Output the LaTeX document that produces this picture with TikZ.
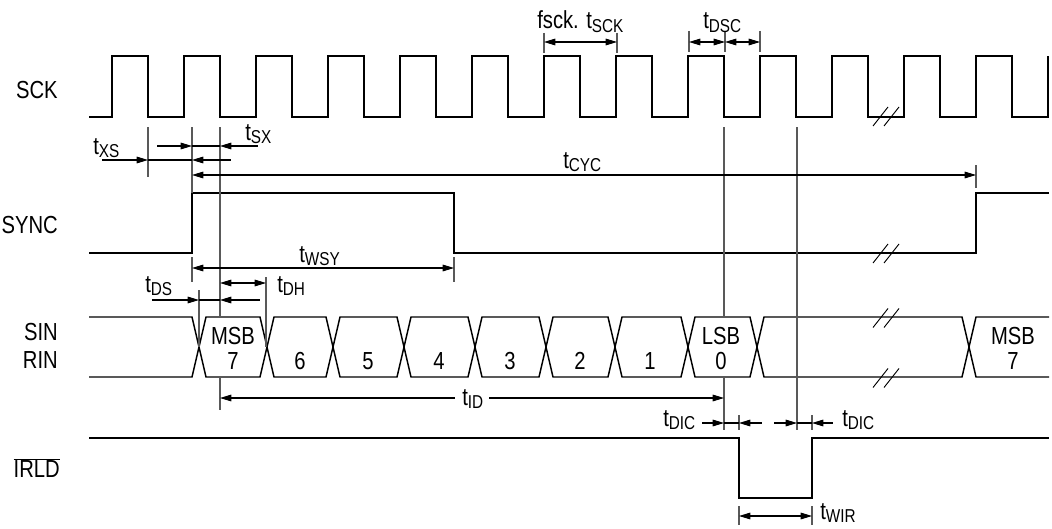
\documentclass[tikz,border=0pt]{standalone}
\usepackage{fontspec}
\setmainfont{Liberation Sans}[FakeStretch=0.82]
\usetikzlibrary{arrows.meta}
\newcommand\tsub[1]{t\raisebox{-0.16em}{\fontsize{14}{15}\selectfont #1}}
\begin{document}
\begin{tikzpicture}[x=0.75pt,y=-0.75pt,
  font=\fontsize{18.5}{20}\selectfont,
  >={Triangle[length=8.5pt,width=5pt]},
  wave/.style={line width=1.1pt},
  refl/.style={line width=0.8pt,black!65},
  dim/.style={line width=0.8pt},
  brk/.style={line width=0.7pt},
  lab/.style={anchor=base west,inner sep=0pt},
  sig/.style={anchor=east,inner sep=0pt},
  dat/.style={anchor=center,inner sep=0pt}]
\useasboundingbox (0,0) rectangle (1052,528);

% signal names
\node[sig] (sck) at (58,90) {SCK};
\node[sig] (sync) at (58,225) {SYNC};
\node[sig] (sin) at (58,332) {SIN};
\node[sig] (rin) at (58,360) {RIN};
\node[sig] (irld) at (60,468) {$\overline{\mbox{IRLD}}$};

% SCK
\draw[wave] (89,117) \foreach \r in {112,184,...,976} { -- (\r,117) -- (\r,56) -- (\r+36,56) -- (\r+36,117) } -- (1048,117) -- (1048,56);

% SYNC
\draw[wave] (89,253) -- (192,253) -- (192,193) -- (454,193) -- (454,253) -- (976,253) -- (976,193) -- (1049,193);

% data bus
\draw[wave] (89,317) -- (192,317) -- (199,347) -- (192,377) -- (89,377);
\foreach \a/\b in {199/267,267/333,333/404,404/475,475/546,546/615,615/688,688/757,757/969}
  \draw[wave] (\a,347) -- (\a+7,317) -- (\b-7,317) -- (\b,347) -- (\b-7,377) -- (\a+7,377) -- cycle;
\draw[wave] (1049,317) -- (976,317) -- (969,347) -- (976,377) -- (1049,377);

% IRLD
\draw[wave] (89,438) -- (739,438) -- (739,498) -- (812,498) -- (812,438) -- (1049,438);

% break marks
\foreach \y in {116.5,253.5,318,378}
  \draw[brk] (873,\y+9.5) -- (888,\y-9.5) (884,\y+9.5) -- (899,\y-9.5);

% data labels
\node[dat] (msb1) at (233,336) {MSB};
\node[dat] (b7) at (233,361) {7};
\node[dat] (b6) at (300,361) {6};
\node[dat] (b5) at (368,361) {5};
\node[dat] (b4) at (439,361) {4};
\node[dat] (b3) at (510,361) {3};
\node[dat] (b2) at (580,361) {2};
\node[dat] (b1) at (650,361) {1};
\node[dat] (lsb) at (721,336) {LSB};
\node[dat] (b0) at (721,361) {0};
\node[dat] (msb2) at (1013,336) {MSB};
\node[dat] (b7b) at (1013,361) {7};

% reference lines
\draw[refl] (148,127) -- (148,177);
\draw[refl] (192,127) -- (192,193);
\draw[refl] (220,127) -- (220,317) (220,377) -- (220,410);
\draw[refl] (724,127) -- (724,317) (724,377) -- (724,430);
\draw[refl] (797,127) -- (797,430);
\draw[refl] (976,165) -- (976,188);
\draw[refl] (199,290) -- (199,347);
\draw[refl] (266,277) -- (266,347);
\draw[refl] (192,257) -- (192,282) (454,257) -- (454,282);
\draw[refl] (544,33) -- (544,53) (617,33) -- (617,53);
\draw[refl] (689,31) -- (689,52) (725,31) -- (725,52) (760,31) -- (760,52);
\draw[refl] (739,415) -- (739,430) (812,415) -- (812,430);
\draw[refl] (739,506) -- (739,525) (812,506) -- (812,525);

% dimension arrows
\draw[dim,->] (102,160) -- (148,160);
\draw[dim] (148,160) -- (192,160);
\draw[dim,<-] (192,160) -- (231,160);
\draw[dim,->] (157,146) -- (192,146);
\draw[dim] (192,146) -- (220,146);
\draw[dim,<-] (220,146) -- (258,146);
\draw[dim,<->] (192,175) -- (976,175);
\draw[dim,<->] (544,42) -- (617,42);
\draw[dim,<->] (689,42) -- (725,42);
\draw[dim,<->] (725,42) -- (760,42);
\draw[dim,<->] (192,268) -- (454,268);
\draw[dim,<->] (220,283) -- (266,283);
\draw[dim,->] (152,300) -- (199,300);
\draw[dim] (199,300) -- (220,300);
\draw[dim,<-] (220,300) -- (260,300);
\draw[dim,<-] (220,398) -- (455,398);
\draw[dim,->] (489,398) -- (724,398);
\draw[dim,->] (702,423) -- (724,423);
\draw[dim] (724,423) -- (739,423);
\draw[dim,<-] (739,423) -- (762,423);
\draw[dim,->] (774,423) -- (797,423);
\draw[dim] (797,423) -- (812,423);
\draw[dim,<-] (812,423) -- (833,423);
\draw[dim,<->] (739,516) -- (812,516);

% timing labels
\node[lab] (txs) at (93,154) {\tsub{XS}};
\node[lab] (tsx) at (245,140) {\tsub{SX}};
\node[lab] (tsck) at (537,29) {fsck. \tsub{SCK}};
\node[lab] (tdsc) at (703,29) {\tsub{DSC}};
\node[lab] (tcyc) at (563,168) {\tsub{CYC}};
\node[lab] (twsy) at (299,262) {\tsub{WSY}};
\node[lab] (tds) at (145,292) {\tsub{DS}};
\node[lab] (tdh) at (277,292) {\tsub{DH}};
\node[lab] (tid) at (462,405) {\tsub{ID}};
\node[lab] (tdica) at (663,426) {\tsub{DIC}};
\node[lab] (tdicb) at (842,426) {\tsub{DIC}};
\node[lab] (twir) at (820,519) {\tsub{WIR}};
\end{tikzpicture}
\end{document}
